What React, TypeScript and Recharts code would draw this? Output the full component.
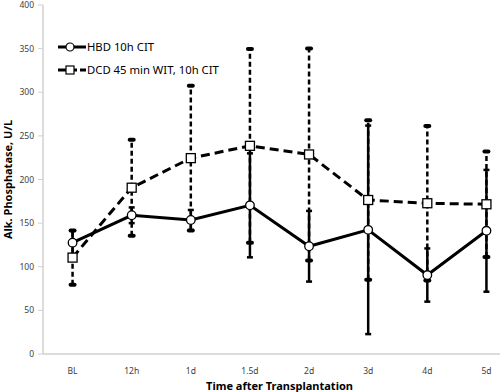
import React from "react";
import {
  ComposedChart,
  Line,
  XAxis,
  YAxis,
  ErrorBar,
  Legend,
} from "recharts";

const categories = ["BL", "12h", "1d", "1.5d", "2d", "3d", "4d", "5d"];
const hbdMean = [127.6, 159, 153.6, 170.4, 123.5, 142.3, 90.5, 141.2];
const hbdErr = [13.5, 9, 11.5, 59.6, 40.5, 119.5, 30.5, 69.8];
const dcdMean = [110.5, 190.6, 224.5, 238.6, 228.7, 176.5, 172.8, 171.6];
const dcdErr = [31, 55, 83, 111, 121.5, 91.5, 88.5, 60.5];
const yTicks = [0, 50, 100, 150, 200, 250, 300, 350, 400];
const bandEdges = [0, 1, 2, 3, 4, 5, 6, 7, 8];
const seriesNames = ["HBD 10h CIT", "DCD 45 min WIT, 10h CIT"];

const data = categories.map((t, i) => ({
  t,
  hbd: hbdMean[i],
  hbdErr: hbdErr[i],
  dcd: dcdMean[i],
  dcdErr: dcdErr[i],
  dcdHi: dcdMean[i] + dcdErr[i],
  dcdLo: dcdMean[i] - dcdErr[i],
}));

const font = "'Noto Sans', sans-serif";
const axisGrey = "#d0d0d0";

const circleDot = (p: any) => (
  <circle key={`c-${p.index}`} cx={p.cx} cy={p.cy} r={4.3} fill="#fff" stroke="#000" strokeWidth={1.3} />
);

const squareDot = (p: any) => (
  <rect key={`s-${p.index}`} x={p.cx - 4.5} y={p.cy - 4.5} width={9} height={9} fill="#fff" stroke="#000" strokeWidth={1.3} />
);

const capDot = (p: any) => (
  <rect key={`k-${p.dataKey}-${p.index}`} x={p.cx - 4} y={p.cy - 2} width={8} height={4} rx={2} fill="#000" />
);

const renderLegend = () => (
  <div style={{ fontFamily: font, fontSize: 11.3, color: "#000", lineHeight: "22px" }}>
    <div style={{ display: "flex", alignItems: "center", height: 22.5 }}>
      <svg width={28} height={12} style={{ marginRight: 1 }}>
        <line x1={0} y1={6} x2={28} y2={6} stroke="#000" strokeWidth={3} />
        <circle cx={12} cy={6} r={4} fill="#fff" stroke="#000" strokeWidth={1.2} />
      </svg>
      <span>{seriesNames[0]}</span>
    </div>
    <div style={{ display: "flex", alignItems: "center", height: 22.5 }}>
      <svg width={28} height={12} style={{ marginRight: 1 }}>
        <line x1={0} y1={6} x2={28} y2={6} stroke="#000" strokeWidth={3} strokeDasharray="8 3" />
        <rect x={8} y={2} width={8} height={8} fill="#fff" stroke="#000" strokeWidth={1.2} />
      </svg>
      <span>{seriesNames[1]}</span>
    </div>
  </div>
);

export default function App() {
  return (
    <div
      style={{
        position: "fixed",
        left: 0,
        top: 0,
        width: 500,
        height: 392,
        overflow: "hidden",
        background: "#fff",
      }}
    >
      <ComposedChart
        width={520}
        height={392}
        data={data}
        margin={{ top: 5, right: 4, bottom: 0, left: 0 }}
      >
        <XAxis
          xAxisId="grid"
          type="number"
          domain={[0, 8]}
          ticks={bandEdges}
          allowDataOverflow
          height={0}
          axisLine={false}
          tickLine={{ stroke: axisGrey }}
          tickSize={4}
          tick={() => <g />}
        />
        <XAxis
          xAxisId="cat"
          dataKey="t"
          scale="band"
          height={38}
          axisLine={{ stroke: axisGrey, strokeWidth: 1.5 }}
          tickLine={false}
          tickMargin={8}
          tick={{ fill: "#404040", fontSize: 8.5, fontFamily: font }}
          label={{
            value: "Time after Transplantation",
            position: "insideBottom",
            offset: 2,
            style: { fontFamily: font, fontSize: 11, fontWeight: "bold", fill: "#000" },
          }}
        />
        <YAxis
          width={43}
          domain={[0, 400]}
          ticks={yTicks}
          axisLine={{ stroke: axisGrey, strokeWidth: 1.5 }}
          tickLine={{ stroke: axisGrey }}
          tickSize={5}
          tickMargin={4}
          tick={{ fill: "#404040", fontSize: 8.5, fontFamily: font }}
          label={{
            value: "Alk. Phosphatase, U/L",
            angle: -90,
            position: "insideLeft",
            offset: 8,
            style: { fontFamily: font, fontSize: 11, fontWeight: "bold", fill: "#000", textAnchor: "middle" },
          }}
        />
        <Legend
          layout="vertical"
          align="center"
          verticalAlign="middle"
          content={renderLegend}
          wrapperStyle={{ top: 36, left: 58, width: "auto" }}
        />
        <Line
          xAxisId="cat"
          dataKey="dcd"
          stroke="#000"
          strokeWidth={3}
          strokeDasharray="9 5"
          dot={squareDot}
          activeDot={false}
          isAnimationActive={false}
        >
          <ErrorBar dataKey="dcdErr" direction="y" width={0} stroke="#000" strokeWidth={2.5} strokeDasharray="5 3" />
        </Line>
        <Line
          xAxisId="cat"
          dataKey="dcdHi"
          stroke="none"
          dot={capDot}
          activeDot={false}
          legendType="none"
          isAnimationActive={false}
        />
        <Line
          xAxisId="cat"
          dataKey="dcdLo"
          stroke="none"
          dot={capDot}
          activeDot={false}
          legendType="none"
          isAnimationActive={false}
        />
        <Line
          xAxisId="cat"
          dataKey="hbd"
          stroke="#000"
          strokeWidth={3}
          dot={circleDot}
          activeDot={false}
          isAnimationActive={false}
        >
          <ErrorBar dataKey="hbdErr" direction="y" width={3} stroke="#000" strokeWidth={2.5} />
        </Line>
      </ComposedChart>
    </div>
  );
}
